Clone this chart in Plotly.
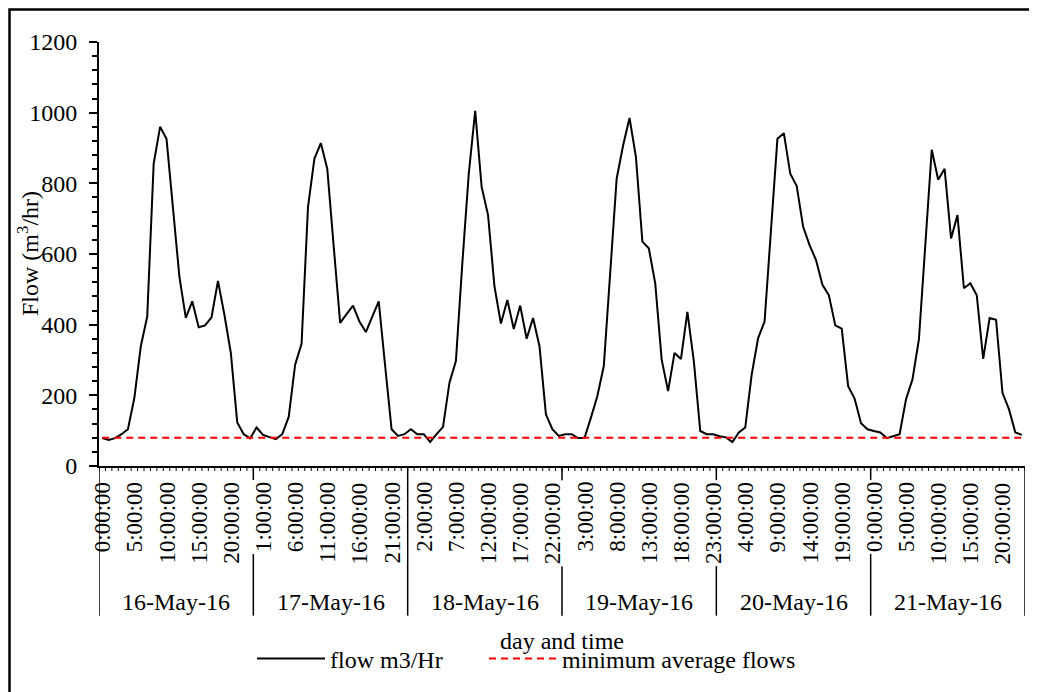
import plotly.graph_objects as go

days = ["16-May-16", "17-May-16", "18-May-16", "19-May-16", "20-May-16", "21-May-16"]
hours = [f"{h}:00:00" for h in range(24)]

# hourly flow m3/Hr, one list per day
flow_16 = [79, 74, 79, 90, 104, 193, 339, 423, 855, 960, 926, 733,
           536, 419, 466, 393, 398, 421, 524, 428, 320, 123, 90, 78]
flow_17 = [109, 88, 83, 76, 90, 139, 287, 346, 733, 870, 914, 841,
           621, 405, 430, 454, 409, 379, 423, 466, 283, 104, 85, 90]
flow_18 = [104, 90, 90, 68, 90, 111, 236, 297, 574, 827, 1005, 790,
           710, 508, 403, 470, 388, 454, 360, 419, 339, 146, 104, 85]
flow_19 = [90, 90, 79, 79, 137, 198, 283, 536, 813, 907, 985, 874,
           635, 616, 517, 301, 212, 320, 303, 436, 297, 99, 90, 90]
flow_20 = [84, 81, 68, 95, 109, 259, 362, 409, 658, 926, 942, 827,
           792, 677, 625, 583, 513, 483, 398, 389, 226, 191, 121, 104]
flow_21 = [99, 95, 79, 84, 90, 189, 245, 358, 625, 895, 810, 841,
           644, 710, 503, 517, 483, 303, 419, 414, 207, 161, 95, 88]

min_avg_flow = 80
label_step = 5

flow = flow_16 + flow_17 + flow_18 + flow_19 + flow_20 + flow_21
categories = [f"{d} {t}" for d in days for t in hours]
n = len(categories)

FONT = "Liberation Serif"

fig = go.Figure()
fig.add_trace(go.Scatter(x=categories, y=flow, mode="lines", name="flow m3/Hr",
                         line=dict(color="black", width=2), legend="legend"))
fig.add_trace(go.Scatter(x=categories, y=[min_avg_flow] * n, mode="lines",
                         name="minimum average flows", legend="legend2",
                         line=dict(color="#ff0000", width=2, dash="7px,5px")))

# plot area: 926 x 425 px (page adds 8px body margin)
plot_h = 425
plot_w = 926

annotations = []
# hour labels every 5th category, opaque box like excel
for i in range(0, n, label_step):
    annotations.append(dict(
        x=categories[i], y=0, xref="x", yref="paper",
        text=hours[i % 24], showarrow=False, textangle=-90,
        yanchor="top", xanchor="center", yshift=-14, borderpad=0,
        bgcolor="white" if i > 0 else "rgba(0,0,0,0)",
        bordercolor="white" if i > 0 else "rgba(0,0,0,0)", borderwidth=2,
        font=dict(family=FONT, size=23, color="black")))

# day labels
for d, day in enumerate(days):
    annotations.append(dict(
        x=d * 24 + 11.5, y=0, xref="x", yref="paper", text=day,
        showarrow=False, yanchor="middle", yshift=-136,
        font=dict(family=FONT, size=24, color="black")))

annotations.append(dict(x=0.5, y=0, xref="paper", yref="paper",
                        text="day and time", showarrow=False,
                        yanchor="middle", yshift=-175,
                        font=dict(family=FONT, size=24, color="black")))
annotations.append(dict(x=0, y=0.5, xref="paper", yref="paper",
                        text="Flow (m<sup>3</sup>/hr)", showarrow=False,
                        textangle=-90, xanchor="center", xshift=-71,
                        font=dict(family=FONT, size=24, color="black")))

shapes = []
# small tick between every pair of categories
tick_path = " ".join(f"M{b - 0.5},0 L{b - 0.5},{-5 / plot_h}" for b in range(n + 1))
shapes.append(dict(type="path", xref="x", yref="paper", path=tick_path,
                   line=dict(color="black", width=1)))
# day dividers
for d in range(len(days) + 1):
    shapes.append(dict(type="line", xref="x", yref="paper",
                       x0=d * 24 - 0.5, x1=d * 24 - 0.5, y0=0, y1=-150 / plot_h,
                       line=dict(color="black", width=1.5), layer="below"))
# chart border (only top and left fall inside the picture)
shapes.append(dict(type="rect", xref="paper", yref="paper",
                   x0=(9.5 - 99) / plot_w, x1=1.2, y0=-0.8, y1=(467 - 9.3) / plot_h,
                   line=dict(color="black", width=2.5)))

legend_style = dict(orientation="h", xanchor="left", yanchor="middle",
                    y=(467 - 659) / plot_h, bgcolor="rgba(0,0,0,0)", itemwidth=68,
                    font=dict(family=FONT, size=24, color="black"))

fig.update_layout(
    width=1029, height=684,
    margin=dict(l=91, r=12, t=34, b=225),
    paper_bgcolor="white", plot_bgcolor="white",
    font=dict(family=FONT, size=24, color="black"),
    showlegend=True,
    legend=dict(x=(252 - 99) / plot_w, **legend_style),
    legend2=dict(x=(484 - 99) / plot_w, **legend_style),
    annotations=annotations,
    shapes=shapes,
    xaxis=dict(type="category", categoryorder="array", categoryarray=categories,
               range=[-0.5, n - 0.5], showgrid=False, zeroline=False,
               showline=True, linecolor="black", linewidth=2,
               ticks="", showticklabels=False),
    yaxis=dict(range=[0, 1200], dtick=200, showgrid=False, zeroline=False,
               showline=True, linecolor="black", linewidth=2,
               ticks="outside", ticklen=8, tickwidth=1.5, tickcolor="black",
               ticklabelstandoff=7,
               tickfont=dict(family=FONT, size=24, color="black"),
               minor=dict(dtick=40, ticks="outside", ticklen=5,
                          tickcolor="black", tickwidth=1.5, showgrid=False)),
)

fig.write_html("out.html")
